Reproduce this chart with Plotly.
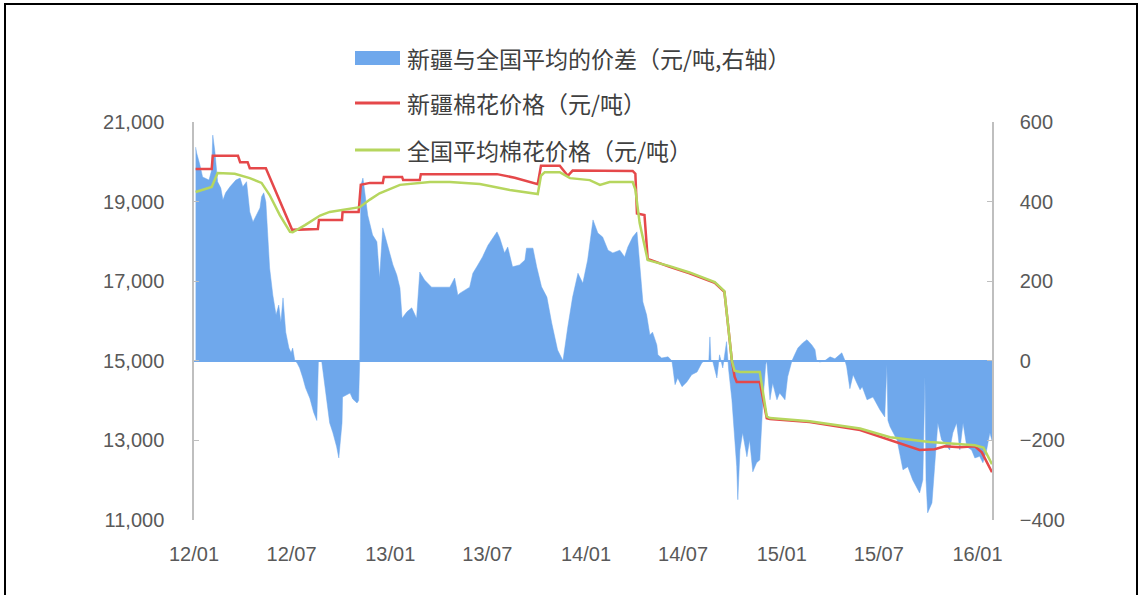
import plotly.graph_objects as go

# ---------------- data ----------------
diff_dates = [
    "2012-01-04", "2012-01-06", "2012-01-12", "2012-01-17", "2012-01-29", "2012-02-03", "2012-02-05",
    "2012-02-09", "2012-02-14", "2012-02-20", "2012-02-24", "2012-02-29", "2012-03-08", "2012-03-19",
    "2012-03-27", "2012-04-01", "2012-04-08", "2012-04-14", "2012-04-20", "2012-04-27", "2012-05-03",
    "2012-05-06", "2012-05-10", "2012-05-14", "2012-05-18", "2012-05-21", "2012-05-27", "2012-06-02",
    "2012-06-07", "2012-06-11", "2012-06-15", "2012-06-20", "2012-06-26", "2012-06-30", "2012-07-03",
    "2012-07-07", "2012-07-11", "2012-07-16", "2012-07-22", "2012-07-27", "2012-08-04", "2012-08-11",
    "2012-08-17", "2012-08-20", "2012-08-26", "2012-08-28", "2012-09-05", "2012-09-10", "2012-09-16",
    "2012-09-23", "2012-09-27", "2012-10-03", "2012-10-04", "2012-10-12", "2012-10-18", "2012-10-23",
    "2012-10-31", "2012-11-03", "2012-11-05", "2012-11-07", "2012-11-11", "2012-11-20", "2012-11-29",
    "2012-12-07", "2012-12-12", "2012-12-18", "2012-12-25", "2012-12-31", "2013-01-06", "2013-01-13",
    "2013-01-19", "2013-01-23", "2013-02-01", "2013-02-10", "2013-02-19", "2013-02-25", "2013-03-06",
    "2013-03-19", "2013-04-07", "2013-04-22", "2013-04-26", "2013-05-01", "2013-05-07", "2013-05-11",
    "2013-05-29", "2013-06-04", "2013-06-13", "2013-06-22", "2013-07-02", "2013-07-09", "2013-07-19",
    "2013-07-24", "2013-08-02", "2013-08-08", "2013-08-17", "2013-08-30", "2013-09-09", "2013-09-12",
    "2013-09-24", "2013-10-01", "2013-10-10", "2013-10-20", "2013-10-29", "2013-11-09", "2013-11-19",
    "2013-11-28", "2013-12-07", "2013-12-17", "2013-12-26", "2014-01-04", "2014-01-14", "2014-01-23",
    "2014-02-01", "2014-02-11", "2014-02-20", "2014-03-05", "2014-03-14", "2014-03-20", "2014-03-29",
    "2014-04-06", "2014-04-11", "2014-04-17", "2014-04-24", "2014-04-30", "2014-05-05", "2014-05-13",
    "2014-05-15", "2014-05-22", "2014-06-03", "2014-06-10", "2014-06-12", "2014-06-16", "2014-06-21",
    "2014-06-29", "2014-07-08", "2014-07-17", "2014-07-27", "2014-08-05", "2014-08-10", "2014-08-18",
    "2014-08-20", "2014-08-22", "2014-08-25", "2014-09-02", "2014-09-07", "2014-09-13", "2014-09-20",
    "2014-09-24", "2014-09-30", "2014-10-09", "2014-10-11", "2014-10-15", "2014-10-20", "2014-10-28",
    "2014-11-02", "2014-11-08", "2014-11-15", "2014-11-21", "2014-11-27", "2014-12-02", "2014-12-04",
    "2014-12-10", "2014-12-15", "2014-12-23", "2014-12-28", "2015-01-07", "2015-01-12", "2015-01-20",
    "2015-01-25", "2015-01-31", "2015-02-09", "2015-02-17", "2015-02-26", "2015-03-04", "2015-03-07",
    "2015-03-13", "2015-03-22", "2015-04-01", "2015-04-10", "2015-04-23", "2015-04-29", "2015-05-02",
    "2015-05-08", "2015-05-14", "2015-05-21", "2015-05-27", "2015-05-31", "2015-06-09", "2015-06-20",
    "2015-07-03", "2015-07-12", "2015-07-16", "2015-07-18", "2015-07-22", "2015-08-04", "2015-08-15",
    "2015-08-24", "2015-09-02", "2015-09-15", "2015-09-21", "2015-09-25", "2015-09-27", "2015-09-30",
    "2015-10-08", "2015-10-13", "2015-10-19", "2015-10-26", "2015-11-01", "2015-11-10", "2015-11-16",
    "2015-11-23", "2015-11-29", "2015-12-05", "2015-12-12", "2015-12-21", "2015-12-27", "2016-01-05",
    "2016-01-11", "2016-01-18", "2016-01-24", "2016-01-28",
]
diff_values = [
    537, 522, 492, 462, 454, 480, 567,
    525, 450, 434, 404, 422, 437, 454,
    459, 437, 450, 374, 349, 366, 384,
    412, 422, 399, 298, 233, 165, 115,
    140, 97, 158, 72, 32, 20, 32,
    0, -5, -18, -43, -68, -94, -129,
    -150, 0, 0, -20, -106, -156, -181,
    -216, -244, -156, -91, -85, -81, -96,
    -106, -100, 0, 440, 459, 366, 316,
    299, 208, 334, 299, 266, 241, 216,
    183, 107, 123, 133, 107, 223, 203,
    185, 185, 185, 195, 208, 165, 170,
    185, 220, 240, 261, 290, 303, 324,
    309, 271, 286, 236, 241, 253, 283,
    283, 236, 186, 160, 95, 27, 0,
    85, 160, 220, 195, 253, 354, 321,
    311, 278, 271, 278, 261, 286, 311,
    324, 241, 148, 115, 65, 72, 40,
    15, 7, 10, 0, -18, -60, -43,
    -65, -53, -35, -28, -5, 0, 0,
    60, 0, 0, -43, 15, -18, 48,
    -23, -98, -266, -349, -224, -181, -241,
    -199, -279, -256, -249, -98, -10, 0,
    -98, -56, -98, -81, -98, -40, 0,
    15, 32, 45, 53, 40, 28, 0,
    -3, 0, 10, 5, 20, 0, -15,
    -70, -35, -56, -73, -65, -98, -91,
    -123, -141, -10, -150, -166, -199, -274,
    -266, -299, -332, -299, -40, -300, -382,
    -357, -266, -156, -199, -207, -224, -181,
    -156, -224, -156, -216, -224, -244, -240,
    -256, -224, -181, -200,
]

xj_dates = [
    "2012-01-04", "2012-02-03", "2012-02-05", "2012-03-23", "2012-03-27", "2012-04-10", "2012-04-14",
    "2012-05-14", "2012-07-02", "2012-08-19", "2012-08-21", "2012-10-03", "2012-10-04", "2012-11-03",
    "2012-11-07", "2012-11-24", "2012-12-18", "2012-12-20", "2013-01-23", "2013-01-25", "2013-02-25",
    "2013-02-27", "2013-07-19", "2013-08-21", "2013-10-03", "2013-10-09", "2013-11-13", "2013-11-19",
    "2013-11-28", "2013-12-07", "2014-03-29", "2014-04-03", "2014-04-06", "2014-04-20", "2014-04-26",
    "2014-06-06", "2014-07-13", "2014-08-29", "2014-09-16", "2014-09-22", "2014-09-30", "2014-10-05",
    "2014-10-09", "2014-11-21", "2014-12-04", "2014-12-10", "2015-02-22", "2015-05-27", "2015-07-22",
    "2015-08-18", "2015-09-15", "2015-10-13", "2015-11-01", "2015-11-29", "2015-12-27", "2016-01-09",
    "2016-01-28",
]
xj_values = [
    19820, 19820, 20150, 20150, 19990, 19990, 19840,
    19840, 18290, 18310, 18540, 18540, 18740, 18740,
    19420, 19470, 19470, 19620, 19620, 19540, 19540,
    19690, 19690, 19600, 19440, 19900, 19900, 19800,
    19650, 19780, 19770, 19700, 18700, 18660, 17560,
    17360, 17200, 16960, 16730, 16000, 15000, 14600,
    14470, 14470, 13560, 13540, 13460, 13260, 13010,
    12900, 12760, 12780, 12850, 12830, 12850, 12700,
    12200,
]

nat_dates = [
    "2012-01-04", "2012-02-03", "2012-02-14", "2012-03-17", "2012-04-14", "2012-05-06", "2012-05-21",
    "2012-06-09", "2012-06-28", "2012-07-03", "2012-07-26", "2012-08-23", "2012-09-10", "2012-10-18",
    "2012-11-05", "2012-11-24", "2012-12-12", "2013-01-19", "2013-03-16", "2013-04-22", "2013-06-17",
    "2013-08-12", "2013-10-03", "2013-10-09", "2013-10-16", "2013-11-13", "2013-12-02", "2014-01-08",
    "2014-01-27", "2014-02-14", "2014-03-29", "2014-04-03", "2014-04-11", "2014-04-26", "2014-06-06",
    "2014-07-13", "2014-08-29", "2014-09-16", "2014-09-22", "2014-09-30", "2014-10-05", "2014-10-15",
    "2014-11-21", "2014-12-04", "2014-12-10", "2015-02-22", "2015-05-27", "2015-07-22", "2015-10-04",
    "2015-12-27", "2016-01-12", "2016-01-28",
]
nat_values = [
    19240, 19370, 19720, 19700, 19590, 19470, 19165,
    18660, 18240, 18230, 18410, 18650, 18740, 18810,
    18860, 19050, 19210, 19420, 19490, 19490, 19440,
    19290, 19190, 19650, 19740, 19740, 19590, 19540,
    19420, 19490, 19490, 19300, 18460, 17530, 17380,
    17220, 16980, 16750, 16000, 15000, 14750, 14720,
    14720, 13600, 13560, 13480, 13300, 13080, 12960,
    12880, 12820, 12400,
]

tick_dates = ["2012-01-01", "2012-07-01", "2013-01-01", "2013-07-01", "2014-01-01",
              "2014-07-01", "2015-01-01", "2015-07-01", "2016-01-01"]
tick_labels = ["12/01", "12/07", "13/01", "13/07", "14/01", "14/07", "15/01", "15/07", "16/01"]
left_ticks = [11000, 13000, 15000, 17000, 19000, 21000]
right_ticks = [-400, -200, 0, 200, 400, 600]

legend_names = ["新疆与全国平均的价差（元/吨,右轴）", "新疆棉花价格（元/吨）", "全国平均棉花价格（元/吨）"]

# ---------------- style ----------------
BLUE = "#6FA8EC"
RED = "#E5484A"
GREEN = "#B6D65E"
AXIS = "#BFBFBF"
TICKTXT = "#595959"
NUMFONT = "Liberation Sans, Arial, sans-serif"
CJKFONT = "Noto Sans CJK SC, sans-serif"

W, H = 1141, 595
L, R, T, B = 194, 992, 122, 520


def px(xp):
    return (xp - L) / (R - L)


def py(yp):
    return (B - yp) / (B - T)


fig = go.Figure()
fig.add_trace(go.Scatter(
    x=diff_dates, y=diff_values, mode="lines", fill="tozeroy",
    fillcolor=BLUE, line=dict(color=BLUE, width=0.5), name=legend_names[0],
    yaxis="y", showlegend=False,
))
fig.add_trace(go.Scatter(
    x=xj_dates, y=xj_values, mode="lines", line=dict(color=RED, width=2.5),
    name=legend_names[1], yaxis="y2", showlegend=False,
))
fig.add_trace(go.Scatter(
    x=nat_dates, y=nat_values, mode="lines", line=dict(color=GREEN, width=2.5),
    name=legend_names[2], yaxis="y2", showlegend=False,
))

fig.update_layout(
    width=W, height=H,
    margin=dict(l=L, r=W - R, t=T, b=H - B),
    paper_bgcolor="white", plot_bgcolor="white",
    showlegend=False,
    xaxis=dict(
        type="date", range=["2012-01-01", "2016-01-28"],
        tickvals=tick_dates, ticktext=tick_labels,
        showgrid=False, zeroline=False, showline=False, ticks="",
        tickfont=dict(family=NUMFONT, size=20, color=TICKTXT),
        ticklabelstandoff=20,
    ),
    yaxis=dict(
        side="right", range=[-400, 600], tickvals=right_ticks,
        showgrid=False, zeroline=True, zerolinecolor=BLUE, zerolinewidth=1.5,
        showline=True, linecolor=AXIS, linewidth=1.5,
        ticks="inside", ticklen=5, tickcolor=AXIS,
        tickfont=dict(family=NUMFONT, size=20, color=TICKTXT),
        ticklabelstandoff=22,
    ),
    yaxis2=dict(
        side="left", overlaying="y", range=[11000, 21000], tickvals=left_ticks,
        tickformat=",", showgrid=False, zeroline=False, showline=True, linecolor=AXIS, linewidth=1.5,
        ticks="inside", ticklen=5, tickcolor=AXIS,
        tickfont=dict(family=NUMFONT, size=20, color=TICKTXT),
        ticklabelstandoff=24,
    ),
)

# manual legend (symbols + real text)
rows = [58, 103, 150]
shapes = [
    dict(type="rect", xref="paper", yref="paper", x0=px(355), x1=px(400), y0=py(65), y1=py(51),
         fillcolor=BLUE, line=dict(width=0)),
    dict(type="line", xref="paper", yref="paper", x0=px(355), x1=px(400), y0=py(rows[1]), y1=py(rows[1]),
         line=dict(color=RED, width=3)),
    dict(type="line", xref="paper", yref="paper", x0=px(355), x1=px(400), y0=py(rows[2]), y1=py(rows[2]),
         line=dict(color=GREEN, width=3)),
    # outer frame
    dict(type="rect", xref="paper", yref="paper", x0=px(5), x1=px(1137), y0=py(605), y1=py(4),
         line=dict(color="#000000", width=2), fillcolor="rgba(0,0,0,0)"),
]
annotations = []
for name, r in zip(legend_names, rows):
    annotations.append(dict(
        xref="paper", yref="paper", x=px(405), y=py(r), xanchor="left", yanchor="middle",
        text=name, showarrow=False, font=dict(family=CJKFONT, size=23, color="#404040"),
    ))
fig.update_layout(shapes=shapes, annotations=annotations)

fig.write_html("out.html", config={"displayModeBar": False},
               post_script="document.body.style.margin='0';")
